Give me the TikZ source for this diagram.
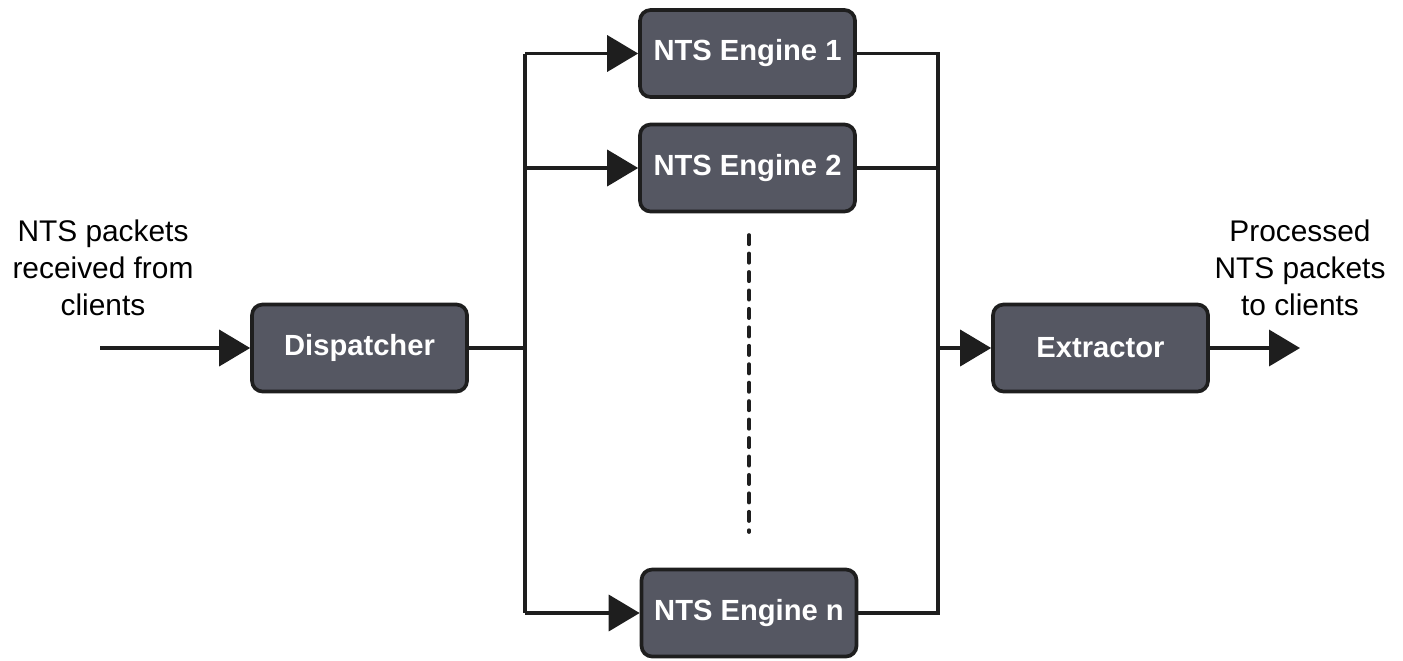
\documentclass[tikz,border=0pt]{standalone}
\usepackage{fontspec}
\setmainfont{Liberation Sans}
\usetikzlibrary{arrows.meta,positioning}

\definecolor{blkfill}{HTML}{555762}
\definecolor{blkline}{HTML}{1E1E1E}

\begin{document}
\begin{tikzpicture}[
    x=0.02cm, y=-0.02cm,
    blk/.style={draw=blkline, line width=2.1pt, fill=blkfill, rounded corners=6pt, minimum width=4.3cm, minimum height=1.74cm, text=white, font=\bfseries\fontsize{16.6}{18}\selectfont},
    wire/.style={line width=2.1pt, draw=blkline},
    feed/.style={wire, -{Triangle[length=0.62cm, width=0.72cm]}},
    lbl/.style={align=center, font=\fontsize{17}{21}\selectfont}
]
\useasboundingbox (0,0) rectangle (1403,660);

% Processing blocks
\node[blk] (disp) at (359.5, 348)  {Dispatcher};
\node[blk] (e1)   at (747.5, 53.5) {NTS Engine 1};
\node[blk] (e2)   at (747.5, 168)  {NTS Engine 2};
\node[blk] (en)   at (749, 613)    {NTS Engine n};
\node[blk] (ext)  at (1100.5, 348) {Extractor};

% Input / output labels
\node[lbl] (inlbl)  at (103, 268)  {NTS packets\\received from\\clients};
\node[lbl] (outlbl) at (1300, 268) {Processed\\NTS packets\\to clients};

% Junction points
\coordinate (in)    at (100, 348);
\coordinate (split) at (525, 348);
\coordinate (merge) at (938, 348);
\coordinate (out)   at (1300, 348);
\coordinate (gaptop) at (749, 235);
\coordinate (gapbot) at (749, 532);

% Fan out to the engines
\draw[feed] (in) -- (disp);
\draw[wire] (disp) -- (split);
\draw[wire] (split |- e1) -- (split |- en);
\draw[feed] (split |- e1) -- (e1);
\draw[feed] (split |- e2) -- (e2);
\draw[feed] (split |- en) -- (en);

% Collect results
\draw[wire] (e1) -| (merge) |- (en);
\draw[wire] (e2) -- (merge |- e2);
\draw[feed] (merge) -- (ext);
\draw[feed] (ext) -- (out);

% Further engines
\draw[wire, line cap=round, dash pattern=on 5.3pt off 5.2pt] (gaptop) -- (gapbot);
\end{tikzpicture}
\end{document}
